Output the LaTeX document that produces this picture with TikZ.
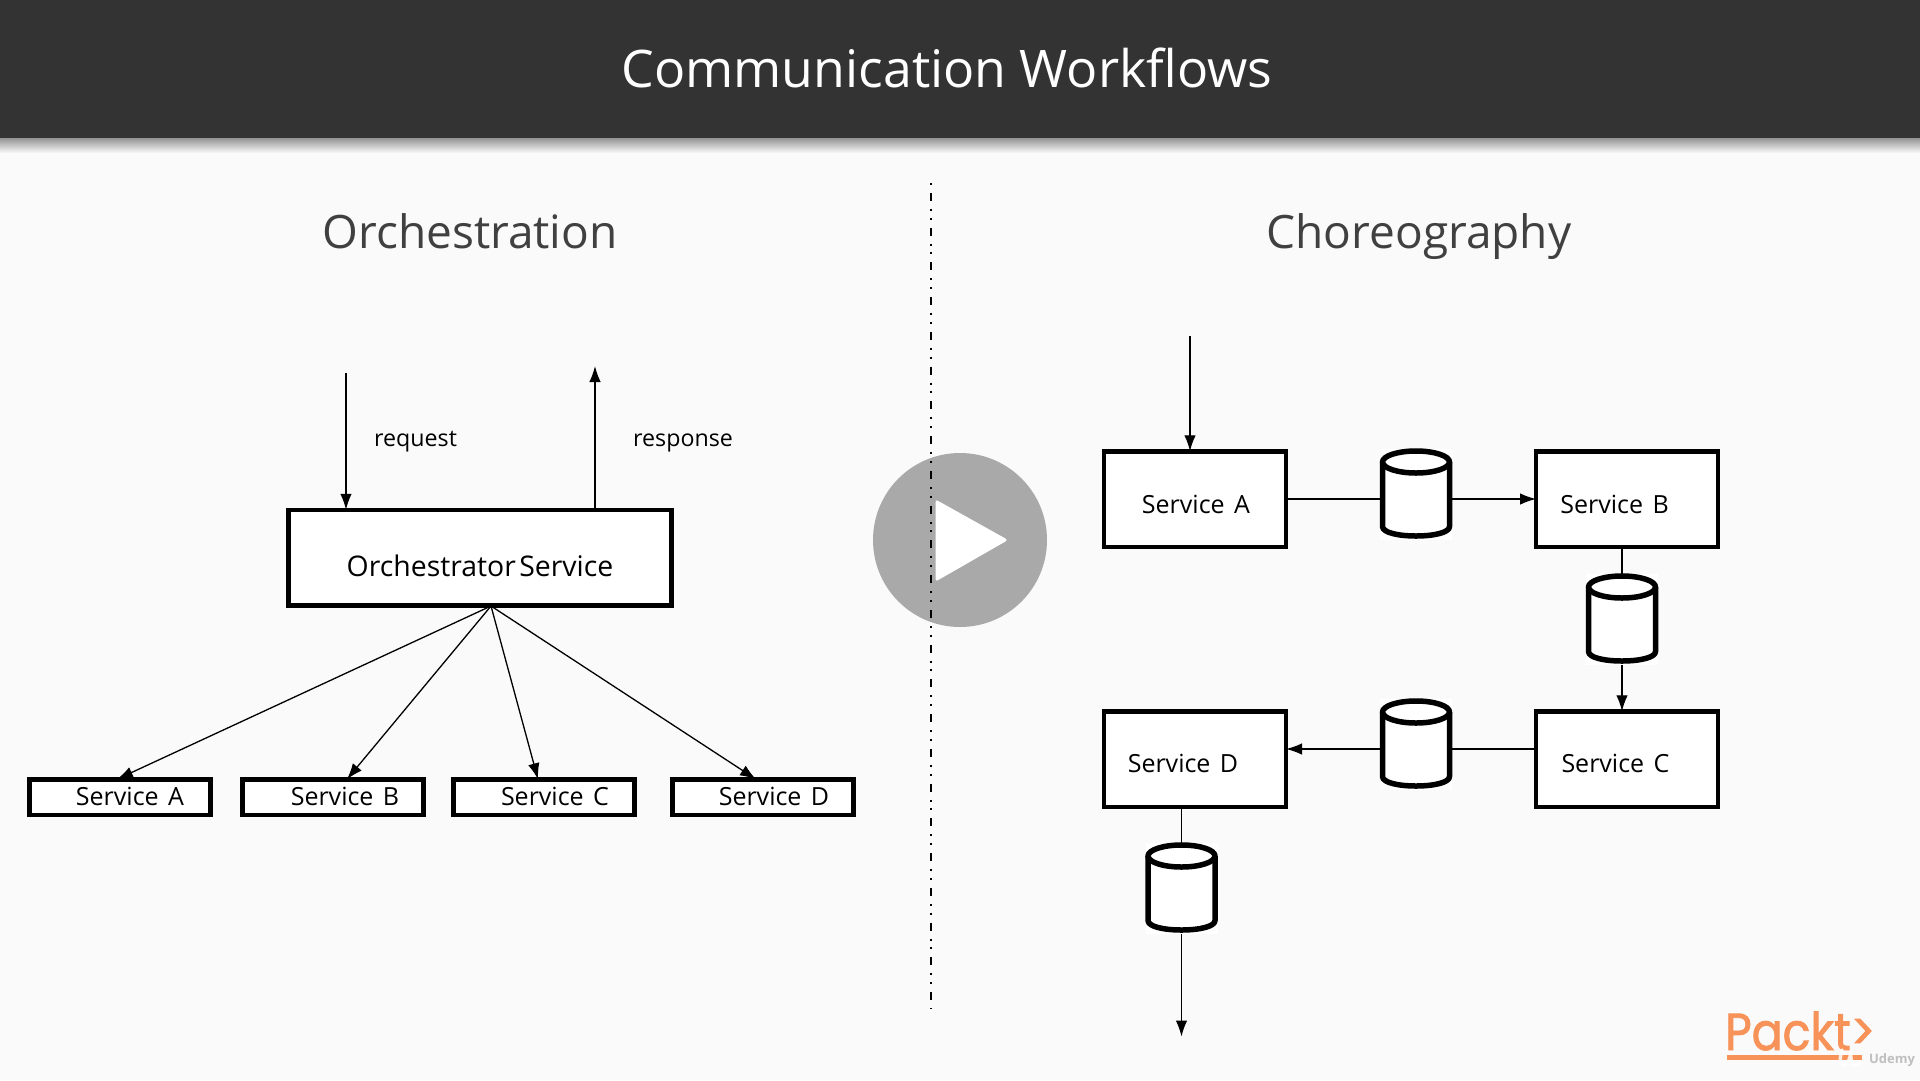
\documentclass[tikz,border=0pt]{standalone}
\usepackage{fontspec}
\setmainfont{Open Sans}
\newfontfamily\logofont[FakeStretch=0.88,FakeBold=1.6]{Poppins}
\usetikzlibrary{arrows.meta}
\definecolor{pagebg}{HTML}{FAFAFA}
\definecolor{headbg}{HTML}{333333}
\definecolor{subtitle}{HTML}{404040}
\definecolor{playgray}{HTML}{A9A9A9}
\definecolor{logoorange}{HTML}{F79359}
\newcommand{\fs}[1]{\fontsize{#1}{#1}\selectfont}
\newcommand{\svc}[1]{Service\kern3pt\ #1}
% a storage drum: invisible named node plus outline; name, centre x, centre y
\newcommand{\drum}[3]{%
  \node[storeframe] (#1) at (#2,#3) {};
  \draw[storeline] (#2-33.5,#3-32.5) -- (#2-33.5,#3+32)
     .. controls (#2-33.5,#3+38) and (#2-18,#3+41.5) .. (#2,#3+41.5)
     .. controls (#2+18,#3+41.5) and (#2+33.5,#3+38) .. (#2+33.5,#3+32)
     -- (#2+33.5,#3-32.5);
  \draw[storeline] (#2,#3-32.5) ellipse [x radius=33.5,y radius=11];
}
\tikzset{
  x=1pt,y=-1pt,
  box/.style={draw=black,fill=white,line width=4.5pt,inner sep=0pt,outer sep=0pt,rectangle},
  bigbox/.style={box,minimum width=182pt,minimum height=95.5pt},
  smallbox/.style={box,minimum width=181pt,minimum height=35.5pt},
  label/.style={inner sep=0pt,text=black,font=\fs{25},anchor=base},
  storeframe/.style={rectangle,fill=white,inner sep=0pt,outer sep=0pt,minimum width=72pt,minimum height=91pt},
  storeline/.style={draw=black,line width=5.5pt,line join=round},
  flow/.style={draw=black,line width=1.3pt,-{Latex[length=16pt,width=11.5pt]}},
  plain/.style={draw=black,line width=1.3pt},
  divider/.style={draw=black,line width=2pt,dash pattern=on 2pt off 8pt on 8pt off 8pt on 2pt off 6.74pt},
}
\begin{document}
\begin{tikzpicture}
\useasboundingbox (0,0) rectangle (1920,1080);
\fill[pagebg] (0,0) rectangle (1920,1080);
\shade[top color=black!42,bottom color=pagebg] (0,138) rectangle (1920,153);
\fill[headbg] (0,0) rectangle (1920,138);
\node[text=white,font=\fs{51.8},inner sep=0pt] (title) at (947,68) {Communication Workflows};
\node[text=subtitle,font=\fs{46},inner sep=0pt,anchor=base] (orchtitle) at (470,248) {Orchestration};
\node[text=subtitle,font=\fs{46},inner sep=0pt,anchor=base] (chortitle) at (1419,248) {Choreography};

% play button and divider
\fill[playgray] (960,540) circle (87);
\fill[white,draw=white,line width=3pt,line join=round] (937,502) -- (1005,540) -- (937,579) -- cycle;
\coordinate (divtop) at (931,183);
\coordinate (divbot) at (931,1008.5);
\draw[divider] (divtop) -- (divbot);

% Orchestration
\node[box,minimum width=383pt,minimum height=95.5pt] (orch) at (480,557.5) {};
\node[label,font=\fs{28.4}] (orchtext) at (480,576) {Orchestrator\kern-4pt\ Service};
\node[smallbox] (la) at (120,797) {};
\node[smallbox] (lb) at (333,797) {};
\node[smallbox] (lc) at (544,797) {};
\node[smallbox] (ld) at (763,797) {};
\node[label] (lat) at (130,805) {\svc{A}};
\node[label] (lbt) at (345,805) {\svc{B}};
\node[label] (lct) at (555,805) {\svc{C}};
\node[label] (ldt) at (774,805) {\svc{D}};
\node[label,anchor=base west,font=\fs{23.2}] (req) at (374,446) {request};
\node[label,anchor=base west,font=\fs{23.2}] (resp) at (633,446) {response};
\coordinate (reqstart) at (346,373);
\coordinate (respend) at (595,366);
\coordinate (hub) at (491,606);
\draw[flow] (reqstart) -- (reqstart |- orch.north);
\draw[flow] (respend |- orch.north) -- (respend);
\draw[flow] (hub) -- ([xshift=-3pt]la.north);
\draw[flow] (hub) -- ([xshift=14pt]lb.north);
\draw[flow] (hub) -- ([xshift=-6pt]lc.north);
\draw[flow] (hub) -- ([xshift=-7pt]ld.north);

% Choreography
\node[bigbox] (ra) at (1195,499) {};
\node[bigbox] (rb) at (1627,499) {};
\node[bigbox] (rc) at (1627,759) {};
\node[bigbox] (rd) at (1195,759) {};
\node[label] (rat) at (1196,513.5) {\svc{A}};
\node[label] (rbt) at (1614.5,513.5) {\svc{B}};
\node[label] (rct) at (1615.5,772.5) {\svc{C}};
\node[label] (rdt) at (1183,772.5) {\svc{D}};
\drum{c1}{1416}{494.5}
\drum{c2}{1622}{619.5}
\drum{c3}{1416}{744.5}
\drum{c4}{1181.5}{888.5}
\coordinate (rstart) at (1190,336);
\coordinate (rend) at (1181.5,1036.5);
\draw[flow] (rstart) -- (rstart |- ra.north);
\draw[plain] (ra.east |- 0,499) -- (c1.west |- 0,499);
\draw[flow] (c1.east |- 0,499) -- (rb.west);
\draw[plain] (c2.north |- rb.south) -- (c2.north);
\draw[flow] (c2.south) -- (c2.south |- rc.north);
\draw[plain] (rc.west |- 0,749) -- (c3.east |- 0,749);
\draw[flow] (c3.west |- 0,749) -- (rd.east |- 0,749);
\draw[plain] (c4.north |- rd.south) -- (c4.north);
\draw[flow] (c4.south) -- (rend);

% logo
\node[text=logoorange,font=\logofont\fs{52},inner sep=0pt,anchor=base west] (packt) at (1725,1050) {Packt>};
\fill[logoorange] (1727,1055) rectangle (1862,1059.5);
\draw[white,line width=3.5pt,line cap=round,line join=round,opacity=.85] (1842,1050) .. controls (1836,1068) and (1848,1072) .. (1851,1052) .. controls (1850,1068) and (1856,1068) .. (1860,1062);
\node[text=white!75!black,font=\bfseries\fs{13},inner sep=0pt] (udemy) at (1892,1060) {Udemy};
\end{tikzpicture}
\end{document}
